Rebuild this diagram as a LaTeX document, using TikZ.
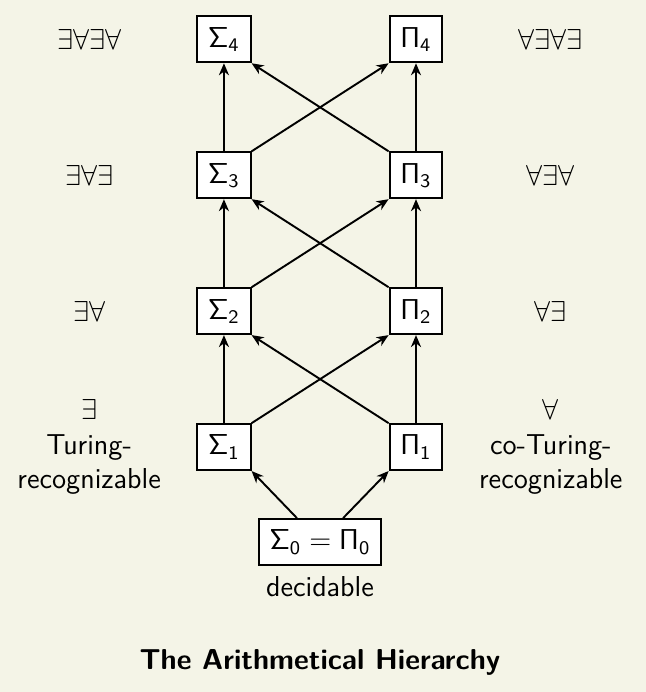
\documentclass[12pt,tikz,border=0pt]{standalone}
\usepackage{amsmath}
\usepackage{amssymb}
\usepackage{tikz}
\usetikzlibrary{arrows.meta}
\usetikzlibrary{positioning}
\definecolor{paper}{RGB}{244,244,231}

\begin{document}
\begin{tikzpicture}[font=\sffamily,
	level/.style={draw, thick, fill=white, inner sep=4.5pt},
	up/.style={thick, -{Stealth[length=5pt,width=4.2pt,inset=1.6pt]}}]
	%Background and margins
	\fill [paper] (-4.685,-2.196) rectangle (4.773,7.936);
	\useasboundingbox (-4.685,-2.196) rectangle (4.773,7.936);

	%Column of the Sigma classes
	\node [level] (s1) at (-1.406,1.39) {$\mathsf{\Sigma_1}$};
	\node [level] (s2) at (-1.406,3.38) {$\mathsf{\Sigma_2}$};
	\node [level] (s3) at (-1.406,5.37) {$\mathsf{\Sigma_3}$};
	\node [level] (s4) at (-1.406,7.36) {$\mathsf{\Sigma_4}$};

	%Column of the Pi classes
	\node [level] (p1) at (1.406,1.39) {$\mathsf{\Pi_1}$};
	\node [level] (p2) at (1.406,3.38) {$\mathsf{\Pi_2}$};
	\node [level] (p3) at (1.406,5.37) {$\mathsf{\Pi_3}$};
	\node [level] (p4) at (1.406,7.36) {$\mathsf{\Pi_4}$};

	%Decidable sets at the bottom
	\node [level] (d) at (0,0) {$\mathsf{\Sigma_0} = \mathsf{\Pi_0}$};
	\node [below=0pt of d] (dec) {decidable};

	%Quantifiers at the left
	\node [align=center] (q1) at (-3.38,1.39) {$\exists$\\Turing-\\recognizable};
	\node (q2) at (-3.38,3.38) {$\exists\forall$};
	\node (q3) at (-3.38,5.37) {$\exists\forall\exists$};
	\node (q4) at (-3.38,7.36) {$\exists\forall\exists\forall$};

	%Quantifiers at the right
	\node [align=center] (r1) at (3.38,1.39) {$\forall$\\co-Turing-\\recognizable};
	\node (r2) at (3.38,3.38) {$\forall\exists$};
	\node (r3) at (3.38,5.37) {$\forall\exists\forall$};
	\node (r4) at (3.38,7.36) {$\forall\exists\forall\exists$};

	%Inclusions from the bottom
	\draw [up] (d) -- (s1.south east);
	\draw [up] (d) -- (p1.south west);

	%Inclusions going straight up
	\draw [up] (s1) -- (s2);
	\draw [up] (s2) -- (s3);
	\draw [up] (s3) -- (s4);
	\draw [up] (p1) -- (p2);
	\draw [up] (p2) -- (p3);
	\draw [up] (p3) -- (p4);

	%Inclusions going across
	\draw [up] (s1.north east) -- (p2.south west);
	\draw [up] (p1.north west) -- (s2.south east);
	\draw [up] (s2.north east) -- (p3.south west);
	\draw [up] (p2.north west) -- (s3.south east);
	\draw [up] (s3.north east) -- (p4.south west);
	\draw [up] (p3.north west) -- (s4.south east);

	%Title
	\node [font=\sffamily\bfseries] (title) at (0,-1.77) {The Arithmetical Hierarchy};
\end{tikzpicture}
\end{document}
